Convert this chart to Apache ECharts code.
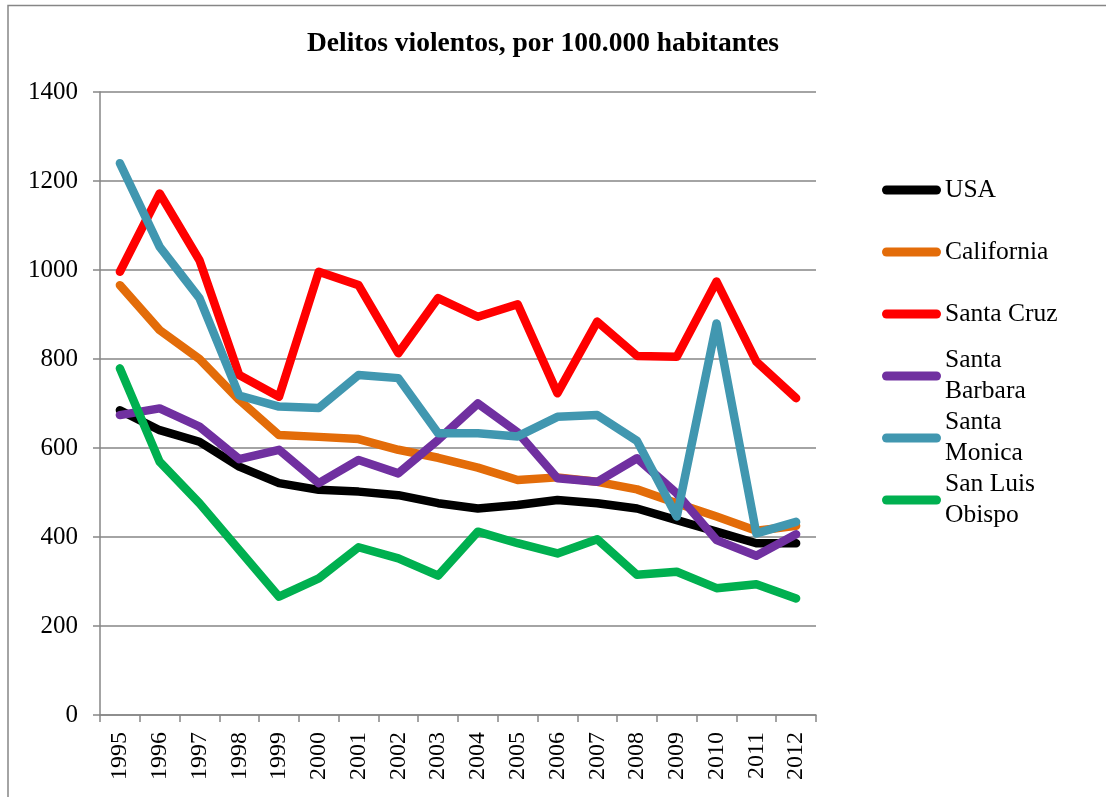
<!DOCTYPE html>
<html lang="es">
<head>
    <meta charset="UTF-8">
    <title>Delitos violentos</title>
    <script src="https://cdn.jsdelivr.net/npm/echarts@6/dist/echarts.min.js"></script>
    <style>
        html, body { margin: 0; padding: 0; background: #fff; }
        #main { width: 1106px; height: 797px; }
    </style>
</head>
<body>
<div id="main"></div>
<script type="text/javascript">
    // datos
    var years = ['1995', '1996', '1997', '1998', '1999', '2000', '2001', '2002', '2003',
                 '2004', '2005', '2006', '2007', '2008', '2009', '2010', '2011', '2012'];
    var usa          = [685, 640, 614, 558, 521, 506, 502, 494, 476, 464, 472, 483, 476, 464, 438, 412, 386, 386];
    var california   = [966, 865, 800, 708, 629, 625, 620, 596, 578, 556, 528, 534, 524, 507, 476, 446, 414, 425];
    var santaCruz    = [996, 1172, 1022, 764, 715, 996, 966, 813, 937, 895, 923, 723, 884, 807, 805, 974, 794, 712];
    var santaBarbara = [674, 689, 648, 575, 596, 521, 573, 543, 618, 700, 635, 532, 524, 577, 498, 393, 358, 406];
    var santaMonica  = [1240, 1052, 937, 718, 693, 690, 764, 757, 633, 633, 626, 670, 674, 616, 446, 880, 408, 434];
    var sanLuis      = [779, 569, 476, 371, 266, 307, 377, 352, 313, 412, 386, 363, 395, 315, 322, 285, 294, 262];
    var yTicks = [0, 200, 400, 600, 800, 1000, 1200, 1400];

    var names  = ['USA', 'California', 'Santa Cruz', 'Santa Barbara', 'Santa Monica', 'San Luis Obispo'];
    var labels = ['USA', 'California', 'Santa Cruz', 'Santa\nBarbara', 'Santa\nMonica', 'San Luis\nObispo'];
    var colors = ['#000000', '#E36C09', '#FF0000', '#7030A0', '#4197B0', '#00B050'];
    var values = [usa, california, santaCruz, santaBarbara, santaMonica, sanLuis];

    var font = '"Liberation Serif", "Times New Roman", serif';
    var grey = '#868686';
    var lineH = 31;

    var myChart = echarts.init(document.getElementById('main'));

    // una leyenda por serie, para que el icono quede a la altura de la primera linea
    var legends = names.map(function (n, i) {
        var twoLines = labels[i].indexOf('\n') >= 0;
        var center = 190 + i * 62;
        return {
            data: [{ name: n, textStyle: { padding: twoLines ? [lineH, 0, 0, -1] : [0, 0, 0, -1] } }],
            orient: 'vertical',
            left: 882,
            top: center - (twoLines ? lineH * 1.5 : lineH / 2),
            padding: 0,
            itemWidth: 59,
            itemHeight: 9,
            itemGap: 0,
            icon: 'path://M4.5,0 H54.5 A4.5,4.5 0 0 1 54.5,9 H4.5 A4.5,4.5 0 0 1 4.5,0 Z',
            selectedMode: false,
            formatter: function () { return labels[i]; },
            textStyle: { fontFamily: font, fontSize: 25.5, color: '#000', lineHeight: lineH }
        };
    });

    myChart.setOption({
        animation: false,
        backgroundColor: '#fff',
        title: {
            text: 'Delitos violentos, por 100.000 habitantes',
            left: 543,
            textAlign: 'center',
            top: 30,
            padding: 0,
            textStyle: { fontFamily: font, fontSize: 27.5, fontWeight: 'bold', color: '#000' }
        },
        legend: legends,
        grid: { left: 100, right: 290, top: 92, bottom: 82, containLabel: false },
        xAxis: {
            type: 'category',
            data: years,
            boundaryGap: true,
            axisLine: { lineStyle: { color: grey, width: 1.5 } },
            axisTick: { show: true, length: 7, interval: 0, lineStyle: { color: grey, width: 1.5 } },
            axisLabel: { rotate: 90, interval: 0, margin: 17, fontFamily: font, fontSize: 24, color: '#000' },
            splitLine: { show: false }
        },
        yAxis: {
            type: 'value',
            min: yTicks[0],
            max: yTicks[yTicks.length - 1],
            interval: 200,
            axisLine: { show: true, lineStyle: { color: grey, width: 1.5 } },
            axisTick: { show: true, length: 7, lineStyle: { color: grey, width: 1.5 } },
            axisLabel: {
                margin: 22, fontFamily: font, fontSize: 25, color: '#000',
                formatter: function (v) { return String(v); }
            },
            splitLine: { show: true, lineStyle: { color: grey, width: 1.5 } }
        },
        series: names.map(function (n, i) {
            return {
                name: n,
                type: 'line',
                data: values[i],
                symbol: 'none',
                color: colors[i],
                lineStyle: { width: 8.5, color: colors[i], cap: 'round', join: 'round' }
            };
        }),
        graphic: [{
            type: 'polyline',
            shape: { points: [[8, 797], [8, 5.5], [1106, 5.5]] },
            style: { stroke: grey, lineWidth: 1.5, fill: null },
            silent: true
        }]
    });
</script>
</body>
</html>
